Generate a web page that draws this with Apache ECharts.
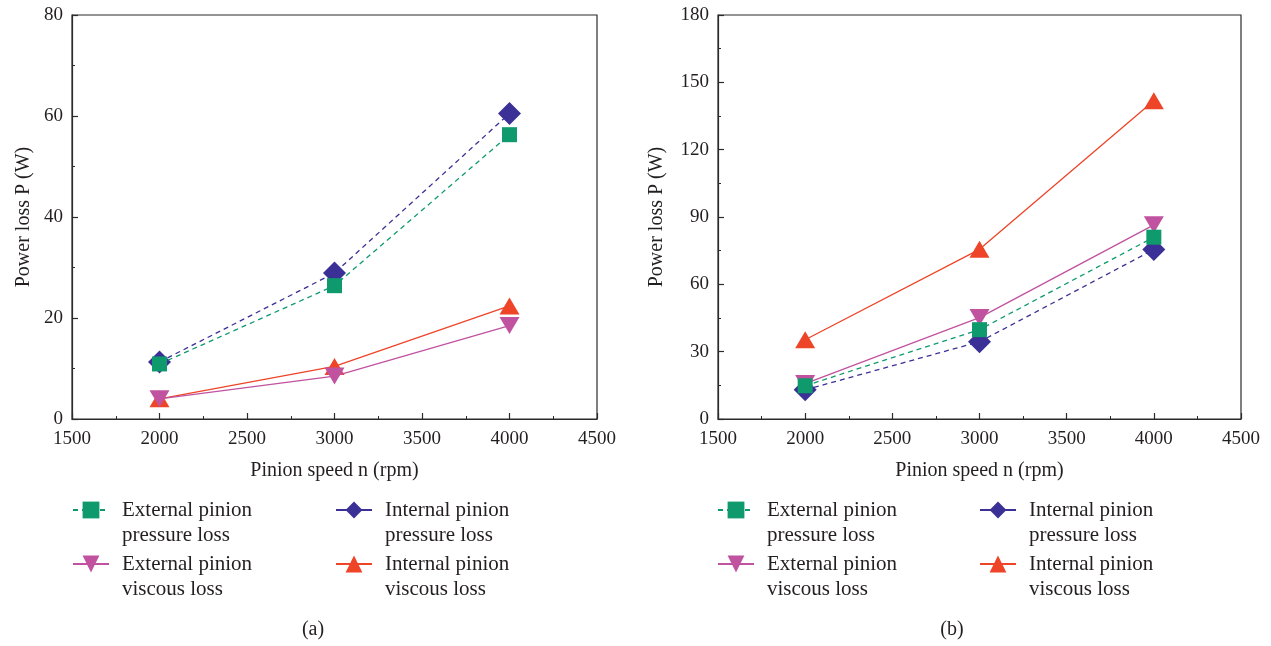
<!DOCTYPE html>
<html>
<head>
<meta charset="utf-8">
<script src="https://cdn.jsdelivr.net/npm/echarts@6/dist/echarts.min.js"></script>
<style>
  html, body { margin: 0; padding: 0; background: #fff; }
  #chart { width: 1271px; height: 646px; }
</style>
</head>
<body>
<div id="chart"></div>
<script>
// Pinion speed (rpm)
const speeds = [2000, 3000, 4000];

// Panel (a) power losses (W)
const aExtPressure = [10.9, 26.4, 56.3];
const aIntPressure = [11.3, 28.9, 60.5];
const aExtViscous = [4.0, 8.5, 18.5];
const aIntViscous = [4.0, 10.4, 22.4];

// Panel (b) power losses (W)
const bExtPressure = [14.8, 39.8, 81.0];
const bIntPressure = [13.0, 34.4, 75.5];
const bExtViscous = [15.8, 45.2, 86.5];
const bIntViscous = [35.3, 75.6, 141.8];

const seriesNames = [
  'External pinion\npressure loss',
  'Internal pinion\npressure loss',
  'External pinion\nviscous loss',
  'Internal pinion\nviscous loss'
];
const captions = ['(a)', '(b)'];

const FONT = '"Liberation Serif", "DejaVu Serif", serif';
const AXIS_COLOR = '#2b2b2b';
const TEXT_COLOR = '#231f20';

const styles = [
  { color: '#0f9a6e', symbol: 'rect', size: 15, dashed: true },
  { color: '#3a3096', symbol: 'diamond', size: 23, dashed: true },
  { color: '#c052a0', symbol: 'triangle', rotate: 180, size: [20, 17], dashed: false },
  { color: '#ee4428', symbol: 'triangle', size: [20, 17], dashed: false }
];

const panels = [
  { left: 72, width: 525, yMax: 80, yInt: 20, nameGap: 38, data: [aExtPressure, aIntPressure, aExtViscous, aIntViscous],
    legendCols: [72, 335], caption: 313 },
  { left: 718, width: 523, yMax: 180, yInt: 30, nameGap: 51, data: [bExtPressure, bIntPressure, bExtViscous, bIntViscous],
    legendCols: [717, 979], caption: 952 }
];
const legendRows = [510, 564];

const grid = [], xAxis = [], yAxis = [], series = [], legend = [], graphic = [];

panels.forEach((p, pi) => {
  grid.push({
    left: p.left, top: 15, width: p.width, height: 404,
    show: true, borderColor: AXIS_COLOR, borderWidth: 1.2, backgroundColor: 'transparent'
  });
  xAxis.push({
    type: 'value', gridIndex: pi, min: 1500, max: 4500, interval: 500,
    name: 'Pinion speed n (rpm)', nameLocation: 'middle', nameGap: 42,
    nameTextStyle: { fontFamily: FONT, fontSize: 20, color: TEXT_COLOR },
    axisLine: { lineStyle: { color: AXIS_COLOR, width: 1.2 } },
    axisTick: { inside: true, length: 6, lineStyle: { color: AXIS_COLOR, width: 1.2 } },
    minorTick: { show: true, splitNumber: 2, length: 3, lineStyle: { color: AXIS_COLOR, width: 1 } },
    axisLabel: { fontFamily: FONT, fontSize: 19, color: TEXT_COLOR, margin: 11, formatter: v => String(v) },
    splitLine: { show: false }
  });
  yAxis.push({
    type: 'value', gridIndex: pi, min: 0, max: p.yMax, interval: p.yInt,
    name: 'Power loss P (W)', nameLocation: 'middle', nameGap: p.nameGap,
    nameTextStyle: { fontFamily: FONT, fontSize: 20, color: TEXT_COLOR },
    axisLine: { show: true, lineStyle: { color: AXIS_COLOR, width: 1.2 } },
    axisTick: { show: true, inside: true, length: 6, lineStyle: { color: AXIS_COLOR, width: 1.2 } },
    minorTick: { show: true, splitNumber: 2, length: 3, lineStyle: { color: AXIS_COLOR, width: 1 } },
    axisLabel: { fontFamily: FONT, fontSize: 19, color: TEXT_COLOR, margin: 9, formatter: v => String(v) },
    splitLine: { show: false }
  });

  p.data.forEach((vals, si) => {
    const st = styles[si];
    const name = seriesNames[si] + '\u200b'.repeat(pi);
    series.push({
      name: name,
      type: 'line',
      xAxisIndex: pi, yAxisIndex: pi,
      data: speeds.map((s, k) => [s, vals[k]]),
      symbol: st.symbol, symbolSize: st.size, symbolRotate: st.rotate || 0,
      itemStyle: { color: st.color },
      lineStyle: { color: st.color, width: 1.3, type: st.dashed ? [5, 4] : 'solid' },
      emphasis: { disabled: true },
      animation: false,
      z: 10 - si
    });
    const col = si % 2, row = Math.floor(si / 2);
    legend.push({
      data: [{
        name: name,
        lineStyle: { type: si === 0 ? [5, 4] : 'solid' }
      }],
      // blank first line keeps the marker level with the first text line
      formatter: n => '\n' + n.replace(/\u200b/g, ''),
      left: p.legendCols[col],
      top: legendRows[row] - 37.5,
      padding: 0,
      itemWidth: 36, itemHeight: 21,
      itemStyle: { color: st.color },
      selectedMode: false,
      textStyle: {
        fontFamily: FONT, fontSize: 21, color: TEXT_COLOR, lineHeight: 25,
        padding: [0, 0, 0, 8]
      }
    });
  });

  graphic.push({
    type: 'text', x: p.caption, y: 630,
    style: { text: captions[pi], font: '20px ' + FONT, fill: TEXT_COLOR, align: 'center', verticalAlign: 'middle' }
  });
});

const chart = echarts.init(document.getElementById('chart'), null, { renderer: 'canvas' });
chart.setOption({
  backgroundColor: '#fff',
  animation: false,
  grid, xAxis, yAxis, series, legend, graphic
});
</script>
</body>
</html>
